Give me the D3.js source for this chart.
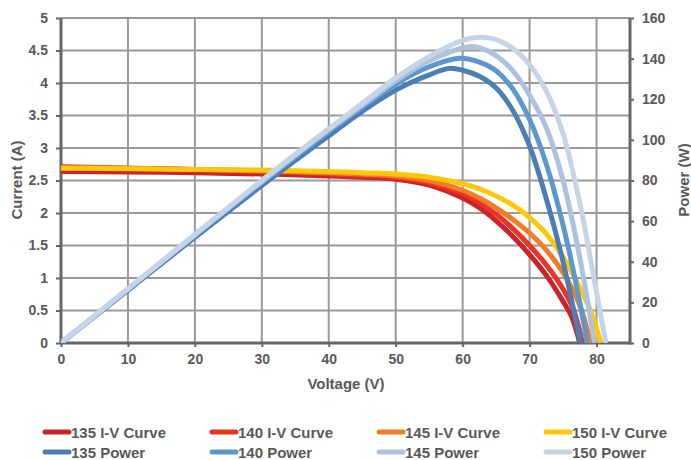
<!DOCTYPE html>
<html>
<head>
<meta charset="utf-8">
<script src="https://cdn.jsdelivr.net/npm/d3@7"></script>
<style>
  html, body { margin: 0; padding: 0; background: #fff; }
  svg text { font-family: "Liberation Sans", Arial, sans-serif; font-weight: bold; fill: #595959; }
</style>
</head>
<body>
<div id="chart"></div>
<script>
// I-V curves: voltage (V) and current (A)
const iv135V = [0, 10, 20, 30, 40, 45, 50, 55, 60, 62.5, 65, 67.5, 70, 72.5, 75, 76.3, 77.5];
const iv135I = [2.64, 2.63, 2.62, 2.6, 2.57, 2.55, 2.52, 2.43, 2.23, 2.08, 1.88, 1.64, 1.36, 1.04, 0.64, 0.4, 0];
const iv140V = [0, 10, 20, 30, 40, 45, 50, 55, 60, 62.5, 65, 67.5, 70, 72.5, 75, 76.6, 77.9];
const iv140I = [2.71, 2.69, 2.67, 2.64, 2.6, 2.58, 2.55, 2.47, 2.3, 2.16, 1.98, 1.76, 1.5, 1.2, 0.83, 0.5, 0];
const iv145V = [0, 10, 20, 30, 40, 45, 50, 55, 60, 62.5, 65, 67.5, 70, 72.5, 75, 77.5, 79.1];
const iv145I = [2.7, 2.69, 2.67, 2.65, 2.62, 2.6, 2.57, 2.5, 2.35, 2.23, 2.08, 1.9, 1.69, 1.43, 1.08, 0.58, 0];
const iv150V = [0, 10, 20, 30, 40, 45, 50, 55, 60, 62.5, 65, 67.5, 70, 72.5, 75, 77.5, 79.3, 80.6];
const iv150I = [2.69, 2.68, 2.67, 2.66, 2.64, 2.62, 2.6, 2.55, 2.45, 2.37, 2.26, 2.12, 1.93, 1.68, 1.32, 0.85, 0.45, 0];

// power curves: voltage (V) and power (W)
const p135V = [0, 10, 20, 30, 40, 45, 50, 55, 58, 60, 62.5, 65, 67.5, 70, 72.5, 75, 77.6];
const p135W = [0, 26, 52, 77.5, 102, 114, 124.5, 132, 135.2, 134.3, 131.3, 125.5, 114.5, 97, 71, 40, 0];
const p140V = [0, 10, 20, 30, 40, 45, 50, 55, 59.6, 62.5, 65, 67.5, 70, 72.5, 75, 77.5, 78.6];
const p140W = [0, 26.5, 53, 79, 104, 116, 127.5, 136, 140.2, 138.3, 134, 125, 110, 88, 58, 20, 0];
const p145V = [0, 10, 20, 30, 40, 45, 50, 55, 61, 62.5, 65, 67.5, 70, 72.5, 75, 77.5, 79.7];
const p145W = [0, 26.6, 53.2, 79.5, 105, 117, 129, 139, 145.9, 145.4, 141.5, 134, 122, 106, 80, 42, 0];
const p150V = [0, 10, 20, 30, 40, 45, 50, 55, 60, 62.6, 65, 67.5, 70, 72.5, 75, 77.5, 80, 81.4];
const p150W = [0, 26.7, 53.4, 80, 105.5, 118, 130.5, 141, 149, 150.5, 149.3, 145, 137, 124, 103, 69, 25, 0];

const xTicks = [0, 10, 20, 30, 40, 50, 60, 70, 80];
const yTicks = [0, 0.5, 1, 1.5, 2, 2.5, 3, 3.5, 4, 4.5, 5];
const y2Ticks = [0, 20, 40, 60, 80, 100, 120, 140, 160];

const ivSeries = [
  { name: '135 I-V Curve', v: iv135V, val: iv135I, color: '#CB2329' },
  { name: '140 I-V Curve', v: iv140V, val: iv140I, color: '#EA3526' },
  { name: '145 I-V Curve', v: iv145V, val: iv145I, color: '#F47C25' },
  { name: '150 I-V Curve', v: iv150V, val: iv150I, color: '#FFC709' },
];
const pSeries = [
  { name: '135 Power', v: p135V, val: p135W, color: '#4A7EB4' },
  { name: '140 Power', v: p140V, val: p140W, color: '#5C97CD' },
  { name: '145 Power', v: p145V, val: p145W, color: '#ADC2DD' },
  { name: '150 Power', v: p150V, val: p150W, color: '#C6D4E8' },
];

const W = 691, H = 460;
const svg = d3.select('#chart').append('svg').attr('width', W).attr('height', H);

const x = d3.scaleLinear().domain([0, 85]).range([61, 630]);
const y = d3.scaleLinear().domain([0, 5]).range([343, 18]);
const y2 = d3.scaleLinear().domain([0, 160]).range([343, 18]);

// grid
const grid = svg.append('g');
grid.selectAll('line.h').data(yTicks.slice(1)).join('line')
  .attr('x1', x(0)).attr('x2', x(85)).attr('y1', (d) => y(d)).attr('y2', (d) => y(d))
  .attr('stroke', '#999').attr('stroke-width', 2);
grid.selectAll('line.v').data(xTicks.slice(1)).join('line')
  .attr('x1', (d) => x(d)).attr('x2', (d) => x(d)).attr('y1', y(0)).attr('y2', y(5))
  .attr('stroke', '#999').attr('stroke-width', 2);

// axes
function styleAxis(g) {
  g.select('.domain').remove();
  g.selectAll('.tick line').attr('stroke', '#666').attr('stroke-width', 2);
  g.selectAll('.tick text').attr('font-size', 14).attr('fill', '#595959');
}
svg.append('g').attr('transform', `translate(0,${y(0)})`)
  .call(d3.axisBottom(x).tickValues(xTicks).tickSize(4).tickPadding(7).tickFormat(d3.format('d')))
  .call(styleAxis);
svg.append('g').attr('transform', `translate(${x(0)},0)`)
  .call(d3.axisLeft(y).tickValues(yTicks).tickSize(5).tickPadding(8).tickFormat((d) => d))
  .call(styleAxis);
svg.append('g').attr('transform', `translate(${x(85)},0)`)
  .call(d3.axisRight(y2).tickValues(y2Ticks).tickSize(4).tickPadding(8).tickFormat(d3.format('d')))
  .call(styleAxis);
svg.selectAll('.tick text').style('font-family', '"Liberation Sans", Arial, sans-serif').style('font-weight', 'bold');

const axisLines = svg.append('g').attr('stroke', '#666').attr('stroke-width', 3);
axisLines.append('line').attr('x1', x(0)).attr('x2', x(0)).attr('y1', y(0) + 1.5).attr('y2', y(5));
axisLines.append('line').attr('x1', x(85)).attr('x2', x(85)).attr('y1', y(0) + 1.5).attr('y2', y(5));
axisLines.append('line').attr('x1', x(0)).attr('x2', x(85)).attr('y1', y(0)).attr('y2', y(0));

// curves
svg.append('clipPath').attr('id', 'plot').append('rect')
  .attr('x', x(0)).attr('y', y(5) - 5).attr('width', x(85) - x(0)).attr('height', y(0) - y(5) + 5);
const ivLine = d3.line().x((d) => x(d[0])).y((d) => y(d[1])).curve(d3.curveCatmullRom.alpha(0.5));
const pLine = d3.line().x((d) => x(d[0])).y((d) => y2(d[1])).curve(d3.curveCatmullRom.alpha(0.5));
const plot = svg.append('g').attr('clip-path', 'url(#plot)');
ivSeries.forEach((s) => {
  plot.append('path').datum(d3.zip(s.v, s.val)).attr('d', ivLine)
    .attr('fill', 'none').attr('stroke', s.color).attr('stroke-width', 5);
});
pSeries.forEach((s) => {
  plot.append('path').datum(d3.zip(s.v, s.val)).attr('d', pLine)
    .attr('fill', 'none').attr('stroke', s.color).attr('stroke-width', 5);
});

// titles
svg.append('text').attr('x', 346).attr('y', 389).attr('text-anchor', 'middle').attr('font-size', 15).text('Voltage (V)');
svg.append('text').attr('transform', 'translate(22,180) rotate(-90)').attr('text-anchor', 'middle').attr('font-size', 15).text('Current (A)');
svg.append('text').attr('transform', 'translate(689,180) rotate(-90)').attr('text-anchor', 'middle').attr('font-size', 15).text('Power (W)');

// legend
const legendItems = ivSeries.concat(pSeries);
const lg = svg.append('g').selectAll('g').data(legendItems).join('g')
  .attr('transform', (d, i) => `translate(${45 + (i % 4) * 167},${432 + Math.floor(i / 4) * 20})`);
lg.append('line').attr('x1', 0).attr('x2', 24).attr('y1', 0).attr('y2', 0)
  .attr('stroke', (d) => d.color).attr('stroke-width', 5).attr('stroke-linecap', 'round');
lg.append('text').attr('x', 26).attr('y', 5.5).attr('font-size', 15).text((d) => d.name);
</script>
</body>
</html>
